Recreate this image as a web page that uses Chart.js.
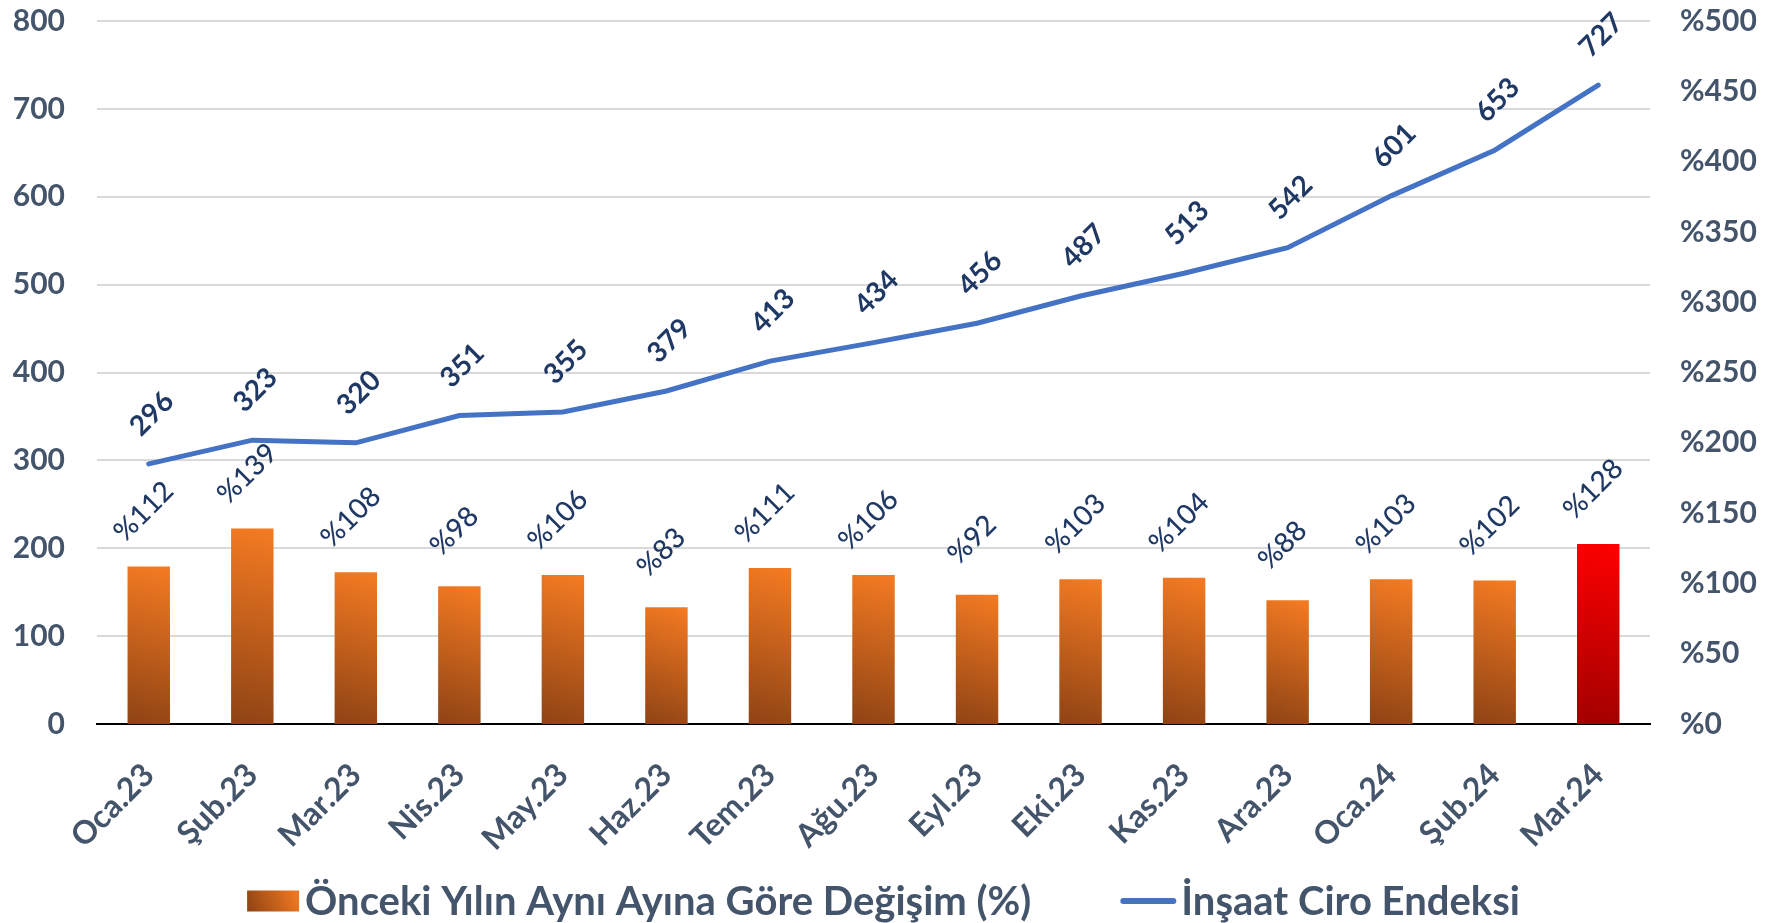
<!DOCTYPE html>
<html>
<head>
<meta charset="utf-8">
<script src="https://cdn.jsdelivr.net/npm/chart.js@4.4.1/dist/chart.umd.min.js"></script>
<style>
  html, body { margin: 0; padding: 0; background: #fff; }
  #wrap { width: 1767px; height: 923px; }
</style>
</head>
<body>
<div id="wrap"><canvas id="chart"></canvas></div>
<script>
// Veriler
const months = ['Oca.23', 'Şub.23', 'Mar.23', 'Nis.23', 'May.23', 'Haz.23', 'Tem.23',
                'Ağu.23', 'Eyl.23', 'Eki.23', 'Kas.23', 'Ara.23', 'Oca.24', 'Şub.24', 'Mar.24']
const ciroIndex = [296, 323, 320, 351, 355, 379, 413, 434, 456, 487, 513, 542, 601, 653, 727]
const yoyChange = [112, 139, 108, 98, 106, 83, 111, 106, 92, 103, 104, 88, 103, 102, 128]
const leftAxis  = { max: 800, step: 100 }
const rightAxis = { max: 500, step: 50 }
const barLabel  = 'Önceki Yılın Aynı Ayına Göre Değişim (%)'
const lineLabel = 'İnşaat Ciro Endeksi'

const TICK_COLOR  = '#44546A'
const LABEL_COLOR = '#1F3864'
const LINE_COLOR  = '#4472C4'

Chart.defaults.font.family = 'Lato, sans-serif'
Chart.defaults.color = TICK_COLOR

function orangeGradient(ctx, x0, y0, x1, y1, red) {
    const g = ctx.createLinearGradient(x0, y0, x1, y1)
    g.addColorStop(0, red ? '#A00000' : '#8E4314')
    g.addColorStop(1, red ? '#FF0000' : '#F57B22')
    return g
}

// çubuk başına çapraz degrade
function barFill(c) {
    const chart = c.chart
    const xs = chart.scales.x, ys = chart.scales.y1
    if (!chart.chartArea || !xs || !ys || c.type !== 'data') return '#E87722'
    const cx = xs.getPixelForValue(c.dataIndex)
    const top = ys.getPixelForValue(c.raw)
    const bottom = ys.getPixelForValue(0)
    return orangeGradient(chart.ctx, cx - 22, bottom, cx + 22, top, c.dataIndex === months.length - 1)
}

// y eksenleri: sabit genişlik, üstte sabit boşluk
function fitY(width) {
    return s => {
        s.width = width
        s.paddingTop = 21
        s.paddingBottom = 0
    }
}

// veri etiketleri (45° döndürülmüş)
const valueLabels = {
    id: 'valueLabels',
    afterDatasetsDraw(chart) {
        const ctx = chart.ctx
        chart.data.datasets.forEach((ds, i) => {
            const meta = chart.getDatasetMeta(i)
            const isLine = ds.type === 'line'
            meta.data.forEach((el, j) => {
                const text = isLine ? String(ds.data[j]) : '%' + ds.data[j]
                ctx.save()
                ctx.translate(el.x + (isLine ? 3 : -5), el.y - (isLine ? 50 : 55))
                ctx.rotate(-Math.PI / 4)
                ctx.font = (isLine ? 'bold ' : '500 ') + '28px Lato, sans-serif'
                ctx.fillStyle = LABEL_COLOR
                ctx.textAlign = 'center'
                ctx.textBaseline = 'middle'
                ctx.fillText(text, 0, 0)
                ctx.restore()
            })
        })
    }
}

// alt lejant (elle çizilir)
const bottomLegend = {
    id: 'bottomLegend',
    afterDraw(chart) {
        const ctx = chart.ctx
        const cy = 901
        ctx.save()
        ctx.font = 'bold 40px Lato, sans-serif'
        ctx.textBaseline = 'middle'
        const w1 = ctx.measureText(barLabel).width
        const w2 = ctx.measureText(lineLabel).width
        const total = 52 + 6 + w1 + 89 + 56 + 5 + w2
        let x = (chart.width - total) / 2

        ctx.fillStyle = orangeGradient(ctx, x, cy + 10, x + 52, cy - 10, false)
        ctx.fillRect(x, cy - 10.5, 52, 21)
        x += 52 + 6
        ctx.fillStyle = TICK_COLOR
        ctx.fillText(barLabel, x, cy + 1)
        x += w1 + 89

        ctx.strokeStyle = LINE_COLOR
        ctx.lineWidth = 6
        ctx.lineCap = 'round'
        ctx.beginPath()
        ctx.moveTo(x + 3, cy)
        ctx.lineTo(x + 53, cy)
        ctx.stroke()
        x += 56 + 5
        ctx.fillText(lineLabel, x, cy + 1)
        ctx.restore()
    }
}

new Chart(document.getElementById('chart'), {
    data: {
        labels: months,
        datasets: [
            {
                type: 'bar',
                label: barLabel,
                data: yoyChange,
                yAxisID: 'y1',
                backgroundColor: barFill,
                barPercentage: 0.82,
                categoryPercentage: 0.5,
                order: 1,
            },
            {
                type: 'line',
                label: lineLabel,
                data: ciroIndex,
                yAxisID: 'y',
                borderColor: LINE_COLOR,
                borderWidth: 5,
                borderCapStyle: 'round',
                pointRadius: 0,
                tension: 0,
                order: 0,
            }
        ]
    },
    options: {
        responsive: true,
        maintainAspectRatio: false,
        animation: false,
        layout: { padding: { top: 0, left: 0, right: 0, bottom: 50 } },
        plugins: {
            tooltip: { enabled: false },
            legend: { display: false }
        },
        scales: {
            x: {
                grid: { display: false },
                border: { display: true, color: '#000', width: 2 },
                ticks: {
                    maxRotation: 45, minRotation: 45, padding: 24,
                    color: TICK_COLOR,
                    font: { size: 32, weight: 'bold' },
                },
                afterFit: s => { s.height = 149 },
            },
            y: {
                position: 'left',
                min: 0, max: leftAxis.max,
                grid: { color: '#D9D9D9', lineWidth: 2, drawTicks: false },
                border: { display: false },
                ticks: {
                    stepSize: leftAxis.step, padding: 32,
                    color: TICK_COLOR,
                    font: { size: 30, weight: 'bold' },
                },
                afterFit: fitY(97),
            },
            y1: {
                position: 'right',
                min: 0, max: rightAxis.max,
                grid: { display: false, drawTicks: false },
                border: { display: false },
                ticks: {
                    stepSize: rightAxis.step, padding: 30,
                    color: TICK_COLOR,
                    font: { size: 30, weight: 'bold' },
                    callback: v => '%' + v,
                },
                afterFit: fitY(117),
            }
        }
    },
    plugins: [valueLabels, bottomLegend]
})
</script>
</body>
</html>
